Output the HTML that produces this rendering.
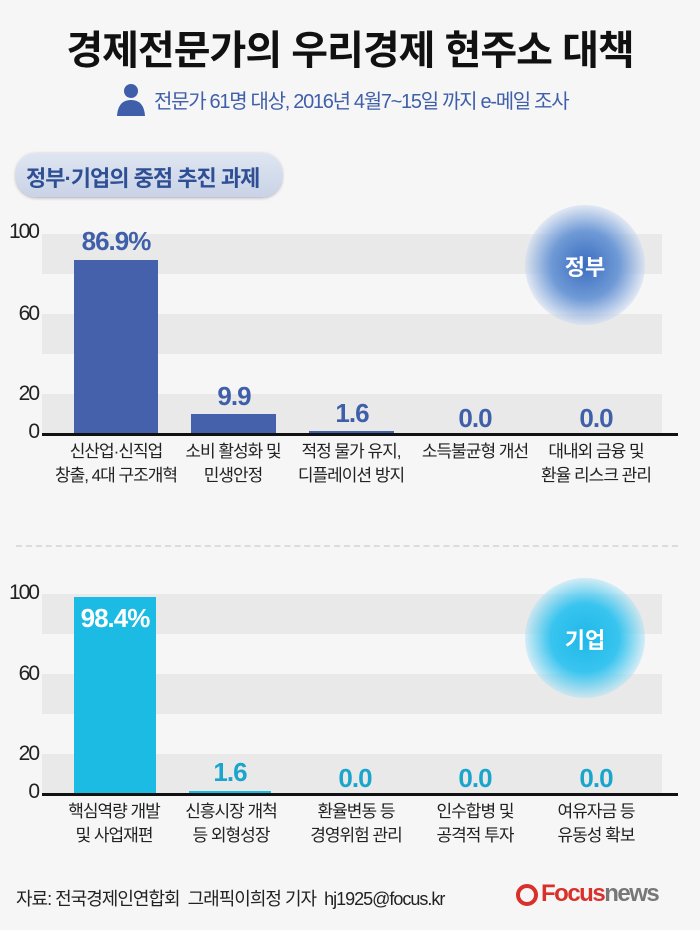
<!DOCTYPE html>
<html><head><meta charset="utf-8"><style>
body{margin:0;width:700px;height:930px;background:#f6f6f6;font-family:"Liberation Sans","Noto Sans CJK KR",sans-serif;position:relative;overflow:hidden}
.a{position:absolute}
.band{position:absolute;left:42px;width:620px;height:40px;background:#e9e9e9}
.ax{position:absolute;left:42px;width:636px;height:3px;background:#111}
.tk{position:absolute;left:0;width:38px;text-align:right;font-size:21px;color:#222;letter-spacing:-2px}
.lb{position:absolute;width:130px;text-align:center;font-size:17px;line-height:24px;color:#222;letter-spacing:-1px}
.v{position:absolute;width:100px;text-align:center;font-size:26px;font-weight:bold;letter-spacing:-1px}
</style></head><body>
<div class="a" style="left:0;top:18px;width:700px;text-align:center;font-size:40px;font-weight:bold;color:#111;letter-spacing:-1px">경제전문가의 우리경제 현주소 대책</div>
<svg class="a" style="left:116px;top:82px" width="30" height="34"><circle cx="15" cy="9" r="7" fill="#3f5fab"/><path d="M1 34 Q2 18 15 18 Q28 18 29 34Z" fill="#3f5fab"/></svg>
<div class="a" style="left:154px;top:85px;font-size:20px;color:#3f5fab;letter-spacing:-1.3px">전문가 61명 대상, 2016년 4월7~15일 까지 e-메일 조사</div>
<div class="a" style="left:16px;top:153px;width:266px;height:44px;border-radius:20px;background:linear-gradient(#dfe6f2,#c9d3e6);box-shadow:0 1px 3px #aab;"></div>
<div class="a" style="left:26px;top:161px;font-size:22px;color:#2f4f95;font-weight:bold;letter-spacing:-1px">정부·기업의 중점 추진 과제</div>

<div class="band" style="top:234px"></div><div class="band" style="top:314px"></div><div class="band" style="top:394px"></div>
<div class="tk" style="top:220px">100</div><div class="tk" style="top:302px">60</div><div class="tk" style="top:382px">20</div><div class="tk" style="top:420px">0</div>
<div class="a" style="left:525px;top:205px;width:120px;height:120px;border-radius:50%;background:radial-gradient(circle,#3a6cc0 0%,#6f9ad6 40%,rgba(200,215,240,0.5) 70%,rgba(246,246,246,0) 100%)"></div>
<div class="a" style="left:530px;top:250px;width:110px;text-align:center;color:#fff;font-size:22px;font-weight:bold">정부</div>
<div class="a" style="left:74px;top:260px;width:84px;height:175px;background:#4561ab"></div>
<div class="a" style="left:191px;top:414px;width:85px;height:21px;background:#4561ab"></div>
<div class="a" style="left:309px;top:431px;width:85px;height:4px;background:#4561ab"></div>
<div class="ax" style="top:433px"></div>
<div class="v" style="left:66px;top:226px;color:#3f5fab;width:100px">86.9%</div>
<div class="v" style="left:184px;top:381px;color:#3f5fab">9.9</div>
<div class="v" style="left:302px;top:398px;color:#3f5fab">1.6</div>
<div class="v" style="left:425px;top:403px;color:#3f5fab">0.0</div>
<div class="v" style="left:546px;top:403px;color:#3f5fab">0.0</div>
<div class="lb" style="left:51px;top:440px">신산업·신직업<br>창출, 4대 구조개혁</div>
<div class="lb" style="left:168px;top:440px">소비 활성화 및<br>민생안정</div>
<div class="lb" style="left:286px;top:440px">적정 물가 유지,<br>디플레이션 방지</div>
<div class="lb" style="left:410px;top:440px">소득불균형 개선</div>
<div class="lb" style="left:531px;top:440px">대내외 금융 및<br>환율 리스크 관리</div>

<div class="a" style="left:16px;top:545px;width:662px;border-top:2px dashed #dcdcdc"></div>

<div class="band" style="top:594px"></div><div class="band" style="top:674px"></div><div class="band" style="top:754px"></div>
<div class="tk" style="top:581px">100</div><div class="tk" style="top:662px">60</div><div class="tk" style="top:742px">20</div><div class="tk" style="top:780px">0</div>
<div class="a" style="left:525px;top:578px;width:120px;height:120px;border-radius:50%;background:radial-gradient(circle,#1fb8e8 0%,#38c4ef 40%,rgba(170,225,245,0.5) 70%,rgba(246,246,246,0) 100%)"></div>
<div class="a" style="left:530px;top:623px;width:110px;text-align:center;color:#fff;font-size:22px;font-weight:bold">기업</div>
<div class="a" style="left:74px;top:597px;width:82px;height:198px;background:#1bbbe3"></div>
<div class="a" style="left:189px;top:791px;width:82px;height:4px;background:#1bbbe3"></div>
<div class="ax" style="top:793px"></div>
<div class="v" style="left:65px;top:603px;color:#fff">98.4%</div>
<div class="v" style="left:180px;top:757px;color:#1aa5cc">1.6</div>
<div class="v" style="left:305px;top:763px;color:#1aa5cc">0.0</div>
<div class="v" style="left:425px;top:763px;color:#1aa5cc">0.0</div>
<div class="v" style="left:546px;top:763px;color:#1aa5cc">0.0</div>
<div class="lb" style="left:49px;top:800px">핵심역량 개발<br>및 사업재편</div>
<div class="lb" style="left:166px;top:800px">신흥시장 개척<br>등 외형성장</div>
<div class="lb" style="left:291px;top:800px">환율변동 등<br>경영위험 관리</div>
<div class="lb" style="left:410px;top:800px">인수합병 및<br>공격적 투자</div>
<div class="lb" style="left:531px;top:800px">여유자금 등<br>유동성 확보</div>

<div class="a" style="left:16px;top:885px;font-size:18px;color:#222;letter-spacing:-1px">자료: 전국경제인연합회 &nbsp;그래픽이희정 기자 &nbsp;hj1925@focus.kr</div>
<div class="a" style="left:516px;top:884px;width:22px;height:22px;border-radius:50%;border:4px solid #d9302b;box-sizing:border-box"></div>
<div class="a" style="left:541px;top:880px;font-size:24px;font-weight:bold;letter-spacing:-1.5px"><span style="color:#d9302b">Focus</span><span style="color:#777">news</span></div>
</body></html>
